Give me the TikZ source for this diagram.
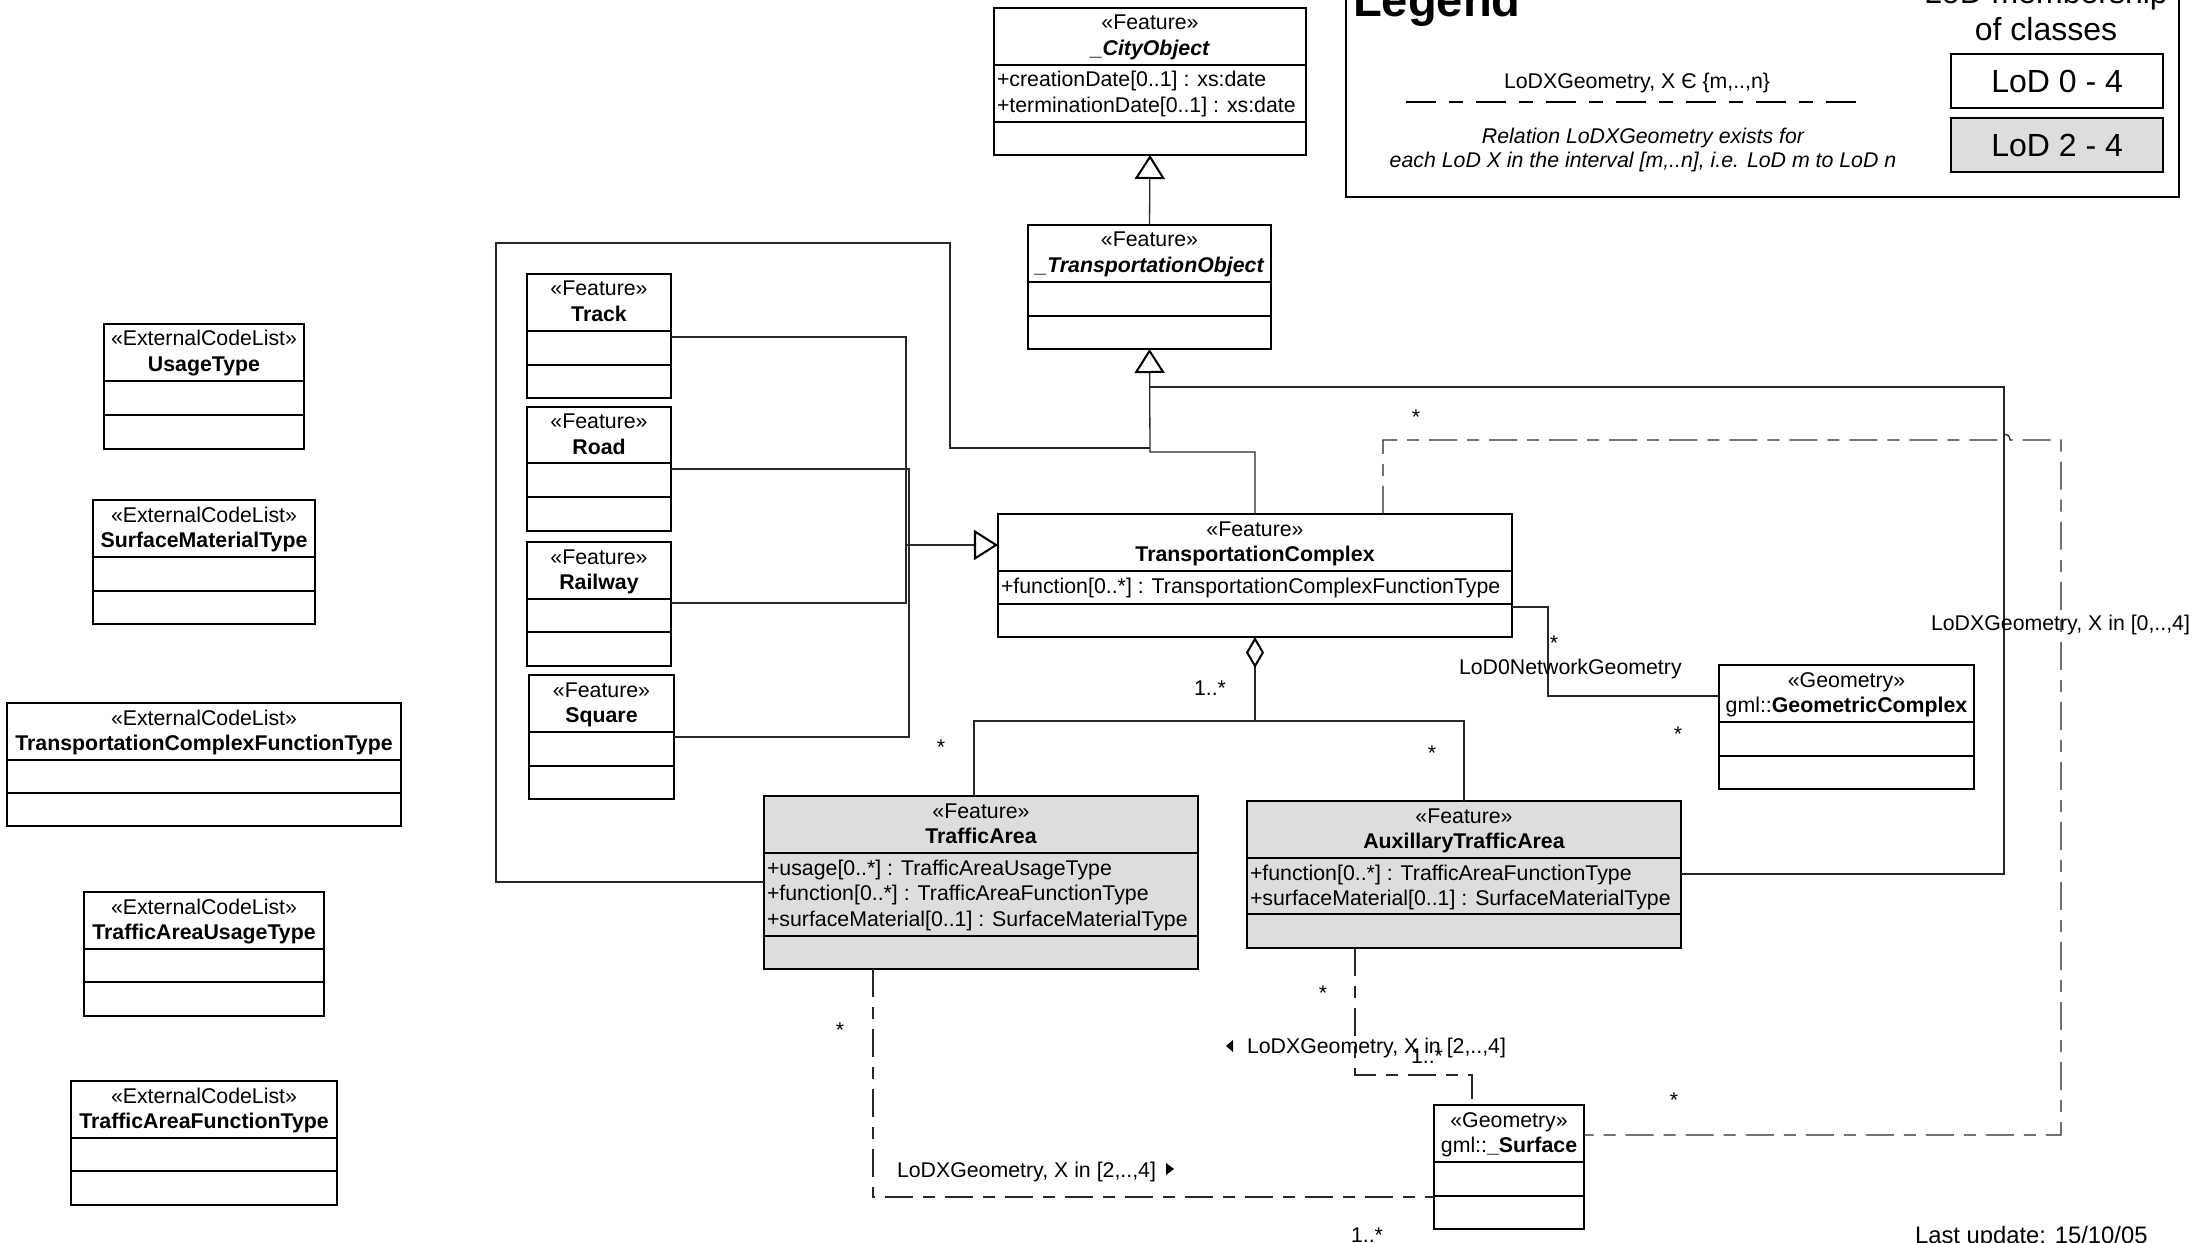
\documentclass[tikz,border=0pt]{standalone}
\usepackage{fontspec}
\setmainfont{Liberation Sans}
\usetikzlibrary{arrows.meta,calc}

\definecolor{lodgray}{RGB}{221,221,221}
\definecolor{wire}{RGB}{40,40,40}
\newcommand\dfont{\fontsize{6.06pt}{7.3pt}\selectfont}
\newcommand\lgfont{\fontsize{9.1pt}{10.5pt}\selectfont}

% class box: id, x1, y1, x2, y2, first separator, second separator, fill
\newcommand\umlbox[8]{%
  \node[classbox, fill=#8, minimum width={(#4-#2)*0.01cm}, minimum height={(#5-#3)*0.01cm}, anchor=north west] (#1) at (#2,#3) {};
  \draw[boxline] (#2,#6) -- (#4,#6) (#2,#7) -- (#4,#7);}

% class header: id, centre x, top y, stereotype, name
\newcommand\umlhead[5]{%
  \node[txt] (#1-st) at (#2,#3+22) {#4};
  \node[txt] (#1-nm) at (#2,#3+47.5) {#5};}

\begin{document}
\begin{tikzpicture}[
  x=0.01cm, y=-0.01cm,
  classbox/.style={draw=black, line width=0.57pt, inner sep=0pt, outer sep=0pt},
  boxline/.style={draw=black, line width=0.57pt},
  conn/.style={draw=wire, line width=0.37pt},
  lod/.style={conn, dash pattern=on 0.28cm off 0.1cm on 0.12cm off 0.1cm},
  genarrow/.style={-{Triangle[open, length=0.24cm, width=0.30cm, line width=0.57pt, color=black, fill=white]}},
  aggarrow/.style={{Diamond[open, length=0.31cm, width=0.18cm, line width=0.57pt, color=black, fill=white]}-},
  txt/.style={inner sep=0pt, outer sep=0pt, font=\dfont, anchor=base},
  attr/.style={txt, anchor=base west},
]
\fill[white] (0,0) rectangle (2194,1243);
\useasboundingbox (0,0) rectangle (2194,1243);

% ---------- classes ----------
\umlbox{CO}{994}{8}{1306}{155}{65}{122}{white}
\umlbox{TO}{1028}{225}{1271}{349}{282}{316}{white}
\umlbox{TC}{998}{514}{1512}{637}{571}{604}{white}
\umlbox{Track}{527}{274}{671}{398}{331}{365}{white}
\umlbox{Road}{527}{407}{671}{531}{463}{497}{white}
\umlbox{Rail}{527}{542}{671}{666}{599}{632}{white}
\umlbox{Square}{529}{675}{674}{799}{732}{766}{white}
\umlbox{TA}{764}{796}{1198}{969}{853}{936}{lodgray}
\umlbox{ATA}{1247}{801}{1681}{948}{858}{914}{lodgray}
\umlbox{GC}{1719}{665}{1974}{789}{722}{756}{white}
\umlbox{Surf}{1434}{1105}{1584}{1229}{1162}{1196}{white}
\umlbox{UT}{104}{324}{304}{449}{381}{415}{white}
\umlbox{SMT}{93}{500}{315}{624}{557}{591}{white}
\umlbox{TCFT}{7}{703}{401}{826}{760}{793}{white}
\umlbox{TAUT}{84}{892}{324}{1016}{949}{982}{white}
\umlbox{TAFT}{71}{1081}{337}{1205}{1138}{1171}{white}

\umlhead{CO}{1150}{8}{«Feature»}{\bfseries\itshape\_CityObject}
\node[attr] (CO-a1) at (997,87) {+creationDate[0..1] : xs:date};
\node[attr] (CO-a2) at (997,112.5) {+terminationDate[0..1] : xs:date};

\umlhead{TO}{1149.5}{225}{«Feature»}{\bfseries\itshape\_TransportationObject}

\umlhead{TC}{1255}{514}{«Feature»}{\bfseries TransportationComplex}
\node[attr] (TC-a1) at (1001,593) {+function[0..*] : TransportationComplexFunctionType};

\umlhead{Track}{599}{274}{«Feature»}{\bfseries Track}
\umlhead{Road}{599}{407}{«Feature»}{\bfseries Road}
\umlhead{Rail}{599}{542}{«Feature»}{\bfseries Railway}
\umlhead{Square}{601.5}{675}{«Feature»}{\bfseries Square}

\umlhead{TA}{981}{796}{«Feature»}{\bfseries TrafficArea}
\node[attr] (TA-a1) at (767,875) {+usage[0..*] : TrafficAreaUsageType};
\node[attr] (TA-a2) at (767,900.5) {+function[0..*] : TrafficAreaFunctionType};
\node[attr] (TA-a3) at (767,926) {+surfaceMaterial[0..1] : SurfaceMaterialType};

\umlhead{ATA}{1464}{801}{«Feature»}{\bfseries AuxillaryTrafficArea}
\node[attr] (ATA-a1) at (1250,880) {+function[0..*] : TrafficAreaFunctionType};
\node[attr] (ATA-a2) at (1250,905.5) {+surfaceMaterial[0..1] : SurfaceMaterialType};

\umlhead{GC}{1846.5}{665}{«Geometry»}{gml::\textbf{GeometricComplex}}
\umlhead{Surf}{1509}{1105}{«Geometry»}{gml::\textbf{\_Surface}}

\umlhead{UT}{204}{324}{«ExternalCodeList»}{\bfseries UsageType}
\umlhead{SMT}{204}{500}{«ExternalCodeList»}{\bfseries SurfaceMaterialType}
\umlhead{TCFT}{204}{703}{«ExternalCodeList»}{\bfseries TransportationComplexFunctionType}
\umlhead{TAUT}{204}{892}{«ExternalCodeList»}{\bfseries TrafficAreaUsageType}
\umlhead{TAFT}{204}{1081}{«ExternalCodeList»}{\bfseries TrafficAreaFunctionType}

% ---------- generalizations ----------
\draw[conn, genarrow] (TO.north) -- (CO.south);
\draw[conn, genarrow] (TC.north) -- (1255,452) -- (1150,452) -- (TO.south);
\draw[conn] ($(TA.north west)+(0,86)$) -- (496,882) -- (496,243) -- (950,243) -- (950,448) -- (1150,448);
\draw[conn] ($(ATA.north east)+(0,73)$) -- (2004,874) -- (2004,387) -- (1150,387);

\draw[conn] ($(Track.north east)+(0,63)$) -- (906,337) -- (906,603) -- ($(Rail.north east)+(0,61)$);
\draw[conn] ($(Road.north east)+(0,62)$) -- (909,469) -- (909,737) -- ($(Square.north east)+(0,62)$);
\coordinate (hubL) at (907,545);
\draw[conn, genarrow] (hubL) -- ($(TC.north west)+(0,31)$);

% ---------- aggregation ----------
\draw[conn, aggarrow] (TC.south) -- (1255,721);
\draw[conn] ($(TA.north west)+(210,0)$) -- (974,721) -- (1464,721) -- (ATA.north);

% ---------- LoD0 network geometry ----------
\draw[conn] ($(TC.north east)+(0,93)$) -- (1548,607) -- (1548,696) -- ($(GC.north west)+(0,31)$);

% ---------- LoDX geometry relations ----------
\draw[lod] ($(TC.north west)+(385,0)$) -- (1383,440) -- (1998,440)
  .. controls (1998,432) and (2010,432) .. (2010,440) -- (2061,440) -- (2061,1135) -- ($(Surf.north east)+(0,30)$);
\draw[lod] ($(TA.south west)+(109,0)$) -- (873,1197) -- ($(Surf.north west)+(0,92)$);
\draw[lod] ($(ATA.south west)+(108,0)$) -- (1355,1075) -- (1472,1075) -- ($(Surf.north west)+(38,0)$);

% ---------- role names and multiplicities ----------
\node[txt] (mTCs) at (1416,425) {*};
\node[txt] (mSfR) at (1674,1107) {*};
\node[attr] (lTCs) at (1931,630) {LoDXGeometry, X in [0,..,4]};

\node[txt] (mTAs) at (840,1037) {*};
\node[attr] (lTAs) at (897,1177) {LoDXGeometry, X in [2,..,4]};
\fill (1166,1163) -- (1174,1169) -- (1166,1175) -- cycle;
\node[txt] (mSfB) at (1367,1242) {1..*};

\node[txt] (mATAs) at (1323,1000) {*};
\fill (1233,1040) -- (1226,1046) -- (1233,1052) -- cycle;
\node[attr] (lATAs) at (1247,1053) {LoDXGeometry, X in [2,..,4]};
\node[txt] (mSfT) at (1427,1063) {1..*};

\node[txt] (mAgg) at (1210,695) {1..*};
\node[txt] (mTAa) at (941,754) {*};
\node[txt] (mATAa) at (1432,760) {*};

\node[txt] (mN1) at (1554,650) {*};
\node[attr] (lN) at (1459,674) {LoD0NetworkGeometry};
\node[txt] (mN2) at (1678,741) {*};

% ---------- legend ----------
\node[classbox, minimum width=8.32cm, minimum height=2.27cm, anchor=north west] (legend) at (1346,-30) {};
\node[attr, font=\fontsize{13.4pt}{15pt}\selectfont\bfseries] (lg-title) at (1353,17) {Legend};
\node[txt, font=\lgfont] (lg-m1) at (2046,4) {LoD membership};
\node[txt, font=\lgfont] (lg-m2) at (2046,41) {of classes};
\node[classbox, minimum width=2.12cm, minimum height=0.54cm, anchor=north west, font=\lgfont] (lg-04) at (1951,54) {LoD 0 - 4};
\node[classbox, fill=lodgray, minimum width=2.12cm, minimum height=0.54cm, anchor=north west, font=\lgfont] (lg-24) at (1951,118) {LoD 2 - 4};
\node[txt] (lg-rel) at (1637,89) {LoDXGeometry, X Є \{m,..,n\}};
\coordinate (lg-d1) at (1406,102);
\coordinate (lg-d2) at (1858,102);
\draw[draw=black, line width=0.6pt, dash pattern=on 0.3cm off 0.13cm on 0.14cm off 0.13cm] (lg-d1) -- (lg-d2);
\node[txt, font=\dfont\itshape] (lg-e1) at (1643,144) {Relation LoDXGeometry exists for};
\node[txt, font=\dfont\itshape] (lg-e2) at (1643,168) {each LoD X in the interval [m,..n], i.e. LoD m to LoD n};

\node[attr, font=\fontsize{6.77pt}{8pt}\selectfont] (upd) at (1915,1243) {Last update: 15/10/05};
\end{tikzpicture}
\end{document}
